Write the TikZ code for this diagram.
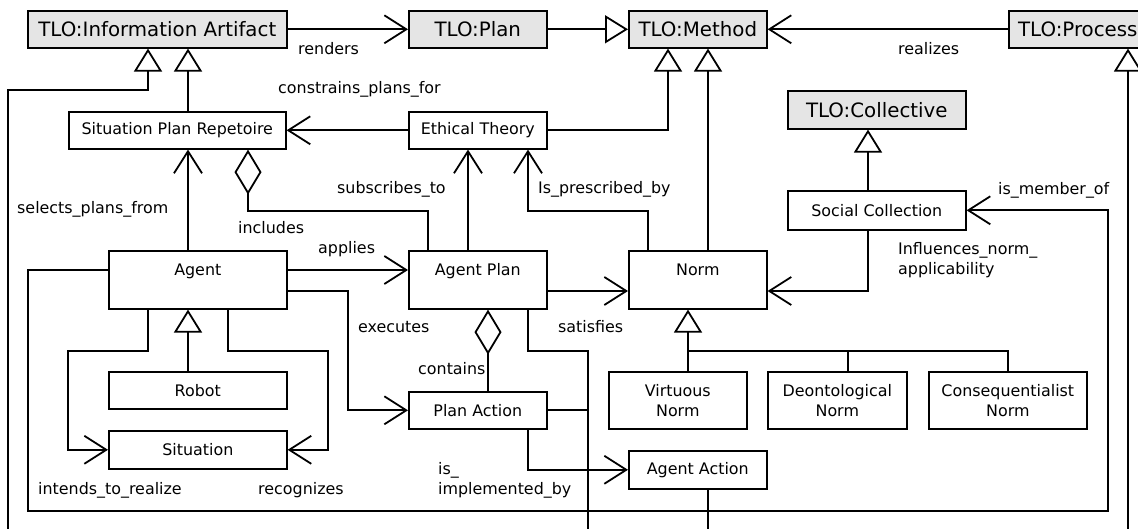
\documentclass[tikz,border=0pt]{standalone}
\usepackage{fontspec}
\setmainfont{DejaVu Sans}
\usetikzlibrary{arrows.meta}

\newcommand{\boxfont}{\fontsize{15.9}{20}\selectfont}
\newcommand{\tlofont}{\fontsize{19.8}{24}\selectfont}

\tikzset{
  tlo/.style={draw, fill=gray!20, line width=1.6pt, font=\tlofont, anchor=north west, inner sep=0pt, minimum height=37pt},
  cls/.style={draw, line width=1.6pt, font=\boxfont, anchor=north west, inner sep=0pt},
  bigcls/.style={cls, minimum width=#1, text height=25pt, text depth=33pt},
  link/.style={line width=1.8pt},
  assoc/.style={link, -{Straight Barb[length=22pt,width=28pt]}},
  gen/.style={link, -{Triangle[open,length=23pt,width=28pt]}},
  agg/.style={link, {Diamond[open,length=45pt,width=27pt]}-},
  lbl/.style={font=\boxfont, anchor=base west, inner sep=0pt, align=left}
}

\begin{document}
\begin{tikzpicture}[x=1pt,y=-1pt]

\useasboundingbox (0,0) rectangle (1138,529);
\clip (0,0) rectangle (1138,529);

\node[tlo, minimum width=259pt] (info) at (27,10) {TLO:Information Artifact};
\node[tlo, minimum width=138pt] (tplan) at (408,10) {TLO:Plan};
\node[tlo, minimum width=138pt] (method) at (628,10) {TLO:Method};
\node[tlo, minimum width=138pt] (process) at (1008,10) {TLO:Process};
\node[tlo, minimum width=178pt, minimum height=38pt] (collective) at (787,90) {TLO:Collective};

\node[cls, minimum width=217pt, minimum height=37pt] (repertoire) at (68,111) {Situation Plan Repetoire};
\node[cls, minimum width=138pt, minimum height=37pt] (ethical) at (408,111) {Ethical Theory};
\node[cls, minimum width=178pt, minimum height=39pt] (social) at (787,190) {Social Collection};
\node[bigcls=178pt] (agent) at (108,250) {Agent};
\node[bigcls=138pt] (aplan) at (408,250) {Agent Plan};
\node[bigcls=138pt] (norm) at (628,250) {Norm};
\node[cls, minimum width=178pt, minimum height=37pt] (robot) at (108,371) {Robot};
\node[cls, minimum width=178pt, minimum height=38pt] (situation) at (108,430) {Situation};
\node[cls, minimum width=138pt, minimum height=37pt] (paction) at (408,391) {Plan Action};
\node[cls, minimum width=138pt, minimum height=38pt] (aaction) at (628,450) {Agent Action};
\node[cls, align=center, minimum width=138pt, minimum height=57pt] (virtuous) at (608,371) {Virtuous\\Norm};
\node[cls, align=center, minimum width=139pt, minimum height=57pt] (deont) at (767,371) {Deontological\\Norm};
\node[cls, align=center, minimum width=158pt, minimum height=57pt] (conseq) at (928,371) {Consequentialist\\Norm};

\coordinate (offa) at (8,540);
\coordinate (offb) at (588,540);
\coordinate (offc) at (708,540);
\coordinate (offd) at (1128,540);

\draw[assoc] (info.east) -- (tplan.west);
\draw[gen] (tplan.east) -- (method.west);
\draw[assoc] (process.west) -- (method.east);
\draw[gen] (repertoire.north -| 188,0) -- (info.south -| 188,0);
\draw[gen] (offa) |- (148,90) -- (info.south -| 148,0);
\draw[gen] (offd) -- (process.south -| offd);

\draw[assoc] (ethical.west) -- (repertoire.east);
\draw[gen] (ethical.east) -| (method.south -| 668,0);
\draw[gen] (norm.north -| 708,0) -- (method.south -| 708,0);
\draw[gen] (social.north -| 868,0) -- (collective.south -| 868,0);
\draw[assoc] (social.south -| 868,0) |- (norm.east |- 0,291);

\draw[assoc] (agent.north -| 188,0) -- (repertoire.south -| 188,0);
\draw[agg] (repertoire.south -| 248,0) |- (428,211) -- (aplan.north -| 428,0);
\draw[assoc] (aplan.north -| 468,0) -- (ethical.south -| 468,0);
\draw[assoc] (norm.north -| 648,0) |- (528,211) -- (ethical.south -| 528,0);
\draw[assoc] (agent.east |- 0,270) -- (aplan.west |- 0,270);
\draw[assoc] (aplan.east |- 0,291) -- (norm.west |- 0,291);
\draw[assoc] (agent.east |- 0,291) -| (paction.west -| 348,0) -- (paction.west);
\draw[agg] (aplan.south -| 488,0) -- (paction.north -| 488,0);
\draw[assoc] (paction.south -| 528,0) |- (aaction.west);
\draw[link] (aplan.south -| 528,0) |- (588,351) -- (offb);
\draw[link] (paction.east) -- (paction.east -| offb);
\draw[link] (aaction.south -| offc) -- (offc);

\draw[gen] (robot.north -| 188,0) -- (agent.south -| 188,0);
\draw[assoc] (agent.south -| 148,0) |- (68,351) |- (situation.west);
\draw[assoc] (agent.south -| 228,0) |- (328,351) |- (situation.east);
\draw[assoc] (agent.west |- 0,270) -| (28,511) -| (social.east -| 1108,0) -- (social.east);

\draw[gen] (virtuous.north -| 688,0) -- (norm.south -| 688,0);
\draw[link] (deont.north -| 848,0) |- (688,351);
\draw[link] (conseq.north -| 1008,0) |- (688,351);

\node[lbl] (lrenders) at (298,55) {renders};
\node[lbl] (lrealizes) at (898,55) {realizes};
\node[lbl] (lconstrains) at (278,94) {constrains\_plans\_for};
\node[lbl] (lselects) at (17,214) {selects\_plans\_from};
\node[lbl] (lincludes) at (238,234) {includes};
\node[lbl] (lsubscribes) at (337,194) {subscribes\_to};
\node[lbl] (lprescribed) at (538,194) {Is\_prescribed\_by};
\node[lbl] (lmember) at (998,195) {is\_member\_of};
\node[lbl] (linfluences) at (898,275) {Influences\_norm\_\\applicability};
\node[lbl] (lapplies) at (318,254) {applies};
\node[lbl] (lexecutes) at (358,333) {executes};
\node[lbl] (lsatisfies) at (558,333) {satisfies};
\node[lbl] (lcontains) at (418,374) {contains};
\node[lbl] (limplemented) at (438,494) {is\_\\implemented\_by};
\node[lbl] (lintends) at (38,494) {intends\_to\_realize};
\node[lbl] (lrecognizes) at (258,494) {recognizes};

\end{tikzpicture}
\end{document}
